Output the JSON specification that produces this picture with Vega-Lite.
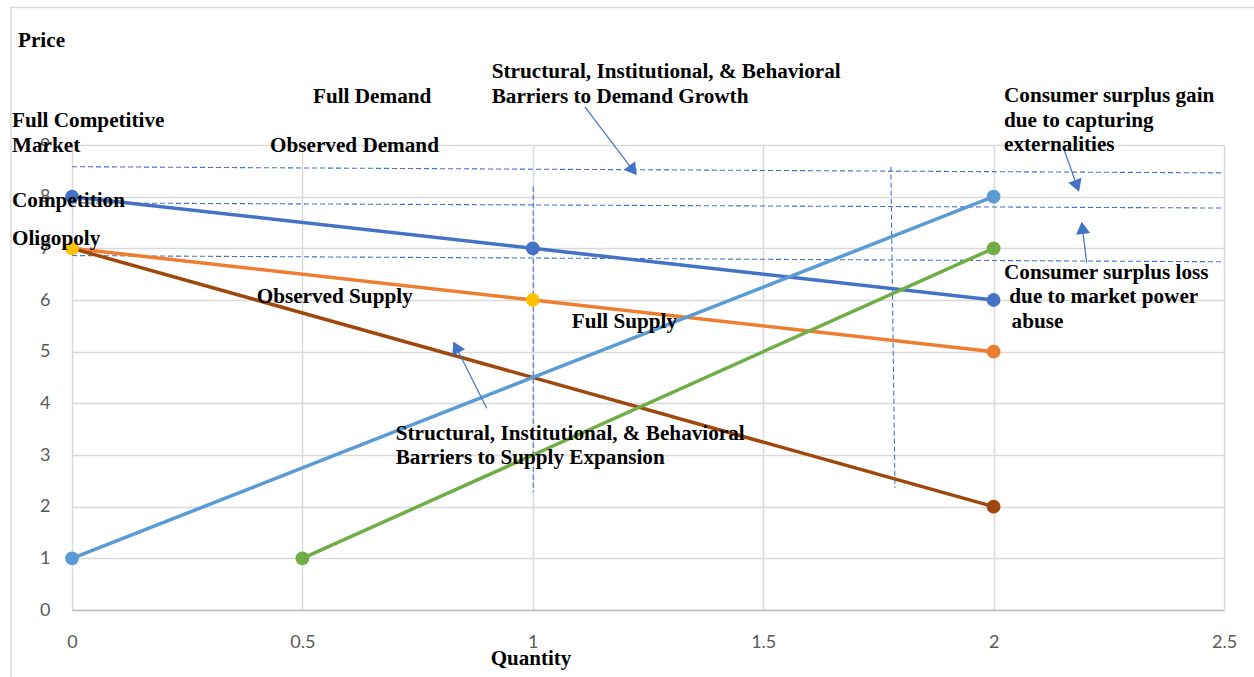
{
  "$schema": "https://vega.github.io/schema/vega-lite/v6.json",
  "width": 1152,
  "height": 465,
  "autosize": {"type": "none"},
  "padding": {"left": 72, "top": 145, "right": 30, "bottom": 67},
  "background": "white",
  "config": {
    "view": {"stroke": null},
    "axis": {
      "gridColor": "#d9d9d9",
      "gridWidth": 1.5,
      "labelFont": "Lato",
      "labelFontSize": 18,
      "labelColor": "#595959",
      "labelFlush": false,
      "ticks": false,
      "title": null
    }
  },
  "datasets": {
    "curves": [
      {"series": "Competition", "q": 0, "p": 8},
      {"series": "Competition", "q": 1, "p": 7},
      {"series": "Competition", "q": 2, "p": 6},
      {"series": "Oligopoly", "q": 0, "p": 7},
      {"series": "Oligopoly", "q": 1, "p": 6},
      {"series": "Oligopoly", "q": 2, "p": 5},
      {"series": "Market power", "q": 0, "p": 7},
      {"series": "Market power", "q": 2, "p": 2},
      {"series": "Full supply", "q": 0, "p": 1},
      {"series": "Full supply", "q": 2, "p": 8},
      {"series": "Observed supply", "q": 0.5, "p": 1},
      {"series": "Observed supply", "q": 2, "p": 7}
    ],
    "markers": [
      {"series": "Competition", "q": 0, "p": 8},
      {"series": "Competition", "q": 1, "p": 7},
      {"series": "Competition", "q": 2, "p": 6},
      {"series": "Oligopoly", "q": 2, "p": 5},
      {"series": "Market power", "q": 2, "p": 2},
      {"series": "Full supply", "q": 0, "p": 1},
      {"series": "Full supply", "q": 2, "p": 8},
      {"series": "Observed supply", "q": 0.5, "p": 1},
      {"series": "Observed supply", "q": 2, "p": 7},
      {"series": "Oligopoly observed", "q": 0, "p": 7},
      {"series": "Oligopoly observed", "q": 1, "p": 6}
    ],
    "dashes": [
      {"q": 0, "p": 8.58, "q2": 2.495, "p2": 8.46},
      {"q": 0, "p": 7.88, "q2": 2.5, "p2": 7.78},
      {"q": 0, "p": 6.86, "q2": 2.5, "p2": 6.74},
      {"q": 1.001, "p": 8.19, "q2": 1.001, "p2": 2.28},
      {"q": 1.777, "p": 8.58, "q2": 1.786, "p2": 2.36}
    ],
    "arrows": [
      {"name": "demand", "q": 1.113, "p": 9.74, "q2": 1.2177, "p2": 8.51},
      {"name": "gain", "q": 2.1506, "p": 8.967, "q2": 2.181, "p2": 8.206},
      {"name": "loss", "q": 2.202, "p": 6.722, "q2": 2.1927, "p2": 7.399},
      {"name": "supply", "q": 0.9, "p": 3.904, "q2": 0.8333, "p2": 5.09}
    ],
    "notes": [
      {"label": "Price", "q": -0.1172, "p": 10.902},
      {"label": "Full Competitive", "q": -0.1302, "p": 9.355},
      {"label": "Market", "q": -0.1302, "p": 8.87},
      {"label": "Competition", "q": -0.1302, "p": 7.806},
      {"label": "Oligopoly", "q": -0.1302, "p": 7.064},
      {"label": "Full Demand", "q": 0.523, "p": 9.812},
      {"label": "Observed Demand", "q": 0.4297, "p": 8.87},
      {"label": "Structural, Institutional, & Behavioral", "q": 0.9108, "p": 10.29},
      {"label": "Barriers to Demand Growth", "q": 0.9108, "p": 9.818},
      {"label": "Consumer surplus gain", "q": 2.0226, "p": 9.826},
      {"label": "due to capturing", "q": 2.0226, "p": 9.354},
      {"label": "externalities", "q": 2.0226, "p": 8.883},
      {"label": "Consumer surplus loss", "q": 2.0226, "p": 6.4},
      {"label": "due to market power", "q": 2.0341, "p": 5.936},
      {"label": "abuse", "q": 2.039, "p": 5.464},
      {"label": "Observed Supply", "q": 0.4008, "p": 5.936},
      {"label": "Full Supply", "q": 1.0844, "p": 5.452},
      {"label": "Structural, Institutional, & Behavioral", "q": 0.7024, "p": 3.29},
      {"label": "Barriers to Supply Expansion", "q": 0.7024, "p": 2.82}
    ],
    "frame": [
      {"q": -0.1325, "p": 11.66, "q2": 2.62, "p2": -1.5}
    ]
  },
  "layer": [
    {
      "data": {"name": "frame"},
      "mark": {"type": "rect", "fill": null, "stroke": "#d9d9d9", "strokeWidth": 1.5},
      "encoding": {
        "x": {"field": "q", "type": "quantitative", "scale": {"domain": [0, 2.5], "nice": false, "zero": false},
          "axis": {"values": [0, 0.5, 1, 1.5, 2, 2.5], "labelExpr": "'' + datum.value", "domain": true, "domainColor": "#bfbfbf", "domainWidth": 1.5, "labelPadding": 23}},
        "x2": {"field": "q2"},
        "y": {"field": "p", "type": "quantitative", "scale": {"domain": [0, 9], "nice": false, "zero": false},
          "axis": {"values": [0, 1, 2, 3, 4, 5, 6, 7, 8, 9], "domain": false, "labelPadding": 22}},
        "y2": {"field": "p2"}
      }
    },
    {
      "data": {"name": "dashes"},
      "mark": {"type": "rule", "color": "#4472C4", "strokeWidth": 1.1, "strokeDash": [5, 3]},
      "encoding": {
        "x": {"field": "q", "type": "quantitative"},
        "x2": {"field": "q2"},
        "y": {"field": "p", "type": "quantitative"},
        "y2": {"field": "p2"}
      }
    },
    {
      "data": {"name": "curves"},
      "mark": {"type": "line", "strokeWidth": 3.5},
      "encoding": {
        "x": {"field": "q", "type": "quantitative"},
        "y": {"field": "p", "type": "quantitative"},
        "color": {"field": "series", "type": "nominal", "legend": null,
          "scale": {"domain": ["Competition", "Oligopoly", "Market power", "Full supply", "Observed supply", "Oligopoly observed"],
                    "range": ["#4472C4", "#ED7D31", "#9E480E", "#5B9BD5", "#70AD47", "#FFC000"]}},
        "order": {"field": "q", "type": "quantitative"}
      }
    },
    {
      "data": {"name": "markers"},
      "mark": {"type": "point", "filled": true, "opacity": 1, "size": 190},
      "encoding": {
        "x": {"field": "q", "type": "quantitative"},
        "y": {"field": "p", "type": "quantitative"},
        "color": {"field": "series", "type": "nominal", "legend": null}
      }
    },
    {
      "data": {"name": "arrows"},
      "mark": {"type": "rule", "color": "#4472C4", "strokeWidth": 1.2},
      "encoding": {
        "x": {"field": "q", "type": "quantitative"},
        "x2": {"field": "q2"},
        "y": {"field": "p", "type": "quantitative"},
        "y2": {"field": "p2"}
      }
    },
    {
      "data": {"name": "arrows"},
      "transform": [{"filter": "datum.name === 'demand'"}],
      "mark": {"type": "point", "shape": "triangle-up", "filled": true, "opacity": 1, "color": "#4472C4", "size": 200, "angle": 143},
      "encoding": {"x": {"field": "q2", "type": "quantitative"}, "y": {"field": "p2", "type": "quantitative"}}
    },
    {
      "data": {"name": "arrows"},
      "transform": [{"filter": "datum.name === 'gain'"}],
      "mark": {"type": "point", "shape": "triangle-up", "filled": true, "opacity": 1, "color": "#4472C4", "size": 200, "angle": 160},
      "encoding": {"x": {"field": "q2", "type": "quantitative"}, "y": {"field": "p2", "type": "quantitative"}}
    },
    {
      "data": {"name": "arrows"},
      "transform": [{"filter": "datum.name === 'loss'"}],
      "mark": {"type": "point", "shape": "triangle-up", "filled": true, "opacity": 1, "color": "#4472C4", "size": 200, "angle": -7},
      "encoding": {"x": {"field": "q2", "type": "quantitative"}, "y": {"field": "p2", "type": "quantitative"}}
    },
    {
      "data": {"name": "arrows"},
      "transform": [{"filter": "datum.name === 'supply'"}],
      "mark": {"type": "point", "shape": "triangle-up", "filled": true, "opacity": 1, "color": "#4472C4", "size": 200, "angle": -27},
      "encoding": {"x": {"field": "q2", "type": "quantitative"}, "y": {"field": "p2", "type": "quantitative"}}
    },
    {
      "data": {"name": "notes"},
      "mark": {"type": "text", "font": "Liberation Serif", "fontWeight": "bold", "fontSize": 21.2, "color": "#000000", "align": "left", "baseline": "alphabetic"},
      "encoding": {
        "x": {"field": "q", "type": "quantitative"},
        "y": {"field": "p", "type": "quantitative"},
        "text": {"field": "label"}
      }
    },
    {
      "data": {"values": [{"label": "Quantity", "q": 0.996, "p": -1.064}]},
      "mark": {"type": "text", "font": "Liberation Serif", "fontWeight": "bold", "fontSize": 21, "color": "#000000", "align": "center", "baseline": "alphabetic"},
      "encoding": {
        "x": {"field": "q", "type": "quantitative"},
        "y": {"field": "p", "type": "quantitative"},
        "text": {"field": "label"}
      }
    }
  ]
}
